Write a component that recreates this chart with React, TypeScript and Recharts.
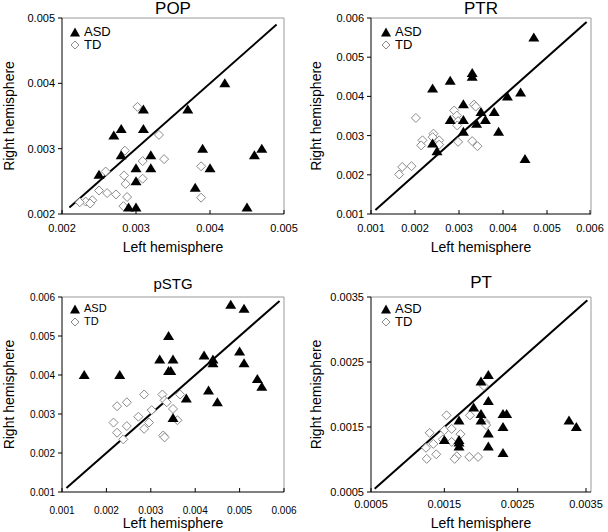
import { ScatterChart, Scatter, XAxis, YAxis, ReferenceLine } from 'recharts'

const FONT = '"Liberation Sans", Arial, Helvetica, sans-serif'

type Pt = [number, number]

// ── POP ──
const popTicks = [0.002, 0.003, 0.004, 0.005]
const popDiag = [0.0021, 0.0049]
const popAsd: Pt[] = [
  [0.0042, 0.0040], [0.0037, 0.0036], [0.0031, 0.0036], [0.0028, 0.0033], [0.0031, 0.0033],
  [0.0027, 0.0032], [0.0028, 0.0029], [0.0032, 0.0029], [0.0032, 0.0027], [0.0030, 0.0027],
  [0.0030, 0.0025], [0.0025, 0.0026], [0.0039, 0.0030], [0.0040, 0.0027], [0.0038, 0.0024],
  [0.0046, 0.0029], [0.0047, 0.0030], [0.0045, 0.0021], [0.0029, 0.0021], [0.0030, 0.0021],
]
const popTd: Pt[] = [
  [0.00302, 0.00364], [0.00331, 0.00321], [0.00285, 0.00297], [0.00338, 0.00284], [0.00309, 0.00281],
  [0.00284, 0.00259], [0.00309, 0.00254], [0.00286, 0.00246], [0.00388, 0.00273], [0.00388, 0.00225],
  [0.00288, 0.00226], [0.00283, 0.00212], [0.00259, 0.00265], [0.0025, 0.00236], [0.00261, 0.00232],
  [0.00273, 0.0023], [0.00241, 0.00221], [0.00232, 0.00219], [0.00224, 0.00218], [0.00238, 0.00216],
]

// ── PTR ──
const ptrTicks = [0.001, 0.002, 0.003, 0.004, 0.005, 0.006]
const ptrDiag = [0.0011, 0.0059]
const ptrAsd: Pt[] = [
  [0.0047, 0.0055], [0.0033, 0.0046], [0.0033, 0.0045], [0.0028, 0.0044], [0.0024, 0.0042],
  [0.0044, 0.0041], [0.0041, 0.0040], [0.0031, 0.0038], [0.0035, 0.0036], [0.0038, 0.0036],
  [0.0028, 0.0034], [0.0031, 0.0034], [0.0036, 0.0034], [0.0034, 0.0033], [0.0039, 0.0031],
  [0.0031, 0.0031], [0.0024, 0.0028], [0.0025, 0.0026], [0.0045, 0.0024],
]
const ptrTd: Pt[] = [
  [0.00202, 0.00345], [0.00289, 0.00364], [0.00295, 0.00351], [0.00298, 0.00337], [0.00296, 0.00326],
  [0.00334, 0.00379], [0.00338, 0.00374], [0.00242, 0.00305], [0.0024, 0.00296], [0.00217, 0.00288],
  [0.00214, 0.00275], [0.00255, 0.00288], [0.00255, 0.00277], [0.00298, 0.00284], [0.0033, 0.00286],
  [0.00342, 0.00273], [0.00192, 0.00222], [0.00171, 0.0022], [0.00164, 0.00201],
]

// ── pSTG ──
const pstgTicks = [0.001, 0.002, 0.003, 0.004, 0.005, 0.006]
const pstgDiag = [0.0011, 0.0059]
const pstgAsd: Pt[] = [
  [0.0048, 0.0058], [0.0051, 0.0057], [0.0034, 0.0050], [0.0042, 0.0045], [0.0050, 0.0046],
  [0.0032, 0.0044], [0.0035, 0.0044], [0.0044, 0.0044], [0.0044, 0.0043], [0.0051, 0.0043],
  [0.0034, 0.0041], [0.00345, 0.0041], [0.0015, 0.0040], [0.0023, 0.0040], [0.0054, 0.0039],
  [0.0055, 0.0037], [0.0043, 0.0036], [0.0038, 0.0034], [0.0045, 0.0033], [0.0035, 0.0029],
]
const pstgTd: Pt[] = [
  [0.00285, 0.0035], [0.00326, 0.0035], [0.00366, 0.0035], [0.00246, 0.0033], [0.00331, 0.00335],
  [0.00224, 0.0032], [0.00336, 0.0033], [0.0035, 0.00313], [0.00302, 0.0031], [0.00272, 0.00293],
  [0.00216, 0.00278], [0.00296, 0.00278], [0.00246, 0.00269], [0.00285, 0.00262], [0.00224, 0.00252],
  [0.00238, 0.00235], [0.00328, 0.00245], [0.00331, 0.0024], [0.0036, 0.00284],
]

// ── PT ──
const ptTicks = [0.0005, 0.0015, 0.0025, 0.0035]
const ptDiag = [0.00055, 0.00345]
const ptAsd: Pt[] = [
  [0.0021, 0.0023], [0.0020, 0.0022], [0.0021, 0.0019], [0.0019, 0.0018], [0.0020, 0.0017],
  [0.0023, 0.0017], [0.00235, 0.0017], [0.0020, 0.0016], [0.0017, 0.0016], [0.0032, 0.0016],
  [0.0033, 0.0015], [0.0023, 0.0015], [0.0021, 0.0014], [0.0015, 0.0013], [0.0017, 0.0013],
  [0.0017, 0.00126], [0.0017, 0.0012], [0.0021, 0.0012], [0.0023, 0.0011],
]
const ptTd: Pt[] = [
  [0.00153, 0.00168], [0.00185, 0.00168], [0.00204, 0.00213], [0.00206, 0.00157], [0.00207, 0.00153],
  [0.0013, 0.00141], [0.0015, 0.00145], [0.0016, 0.00147], [0.00172, 0.00139], [0.00148, 0.00131],
  [0.0016, 0.00127], [0.00135, 0.00124], [0.00125, 0.00118], [0.00139, 0.00108], [0.00126, 0.00101],
  [0.00167, 0.00105], [0.00164, 0.00101], [0.00184, 0.00104], [0.00196, 0.00104],
]

const toXY = (pts: Pt[]) => pts.map(([x, y]) => ({ x, y }))

const DIAMOND_GRAY = '#8a8a8a'

function Triangle(props: any) {
  const { cx, cy } = props
  if (cx == null || cy == null) return null
  return <polygon points={`${cx},${cy - 5} ${cx + 5.5},${cy + 4} ${cx - 5.5},${cy + 4}`} fill="#000" />
}

function Diamond(props: any) {
  const { cx, cy } = props
  if (cx == null || cy == null) return null
  return (
    <polygon
      points={`${cx},${cy - 4.5} ${cx + 4.5},${cy} ${cx},${cy + 4.5} ${cx - 4.5},${cy}`}
      fill="#fff"
      stroke={DIAMOND_GRAY}
      strokeWidth={1}
    />
  )
}

// x ticks point into the plot, label sits below the axis
function XTick(props: any) {
  const { x, y, payload, fs, gap } = props
  return (
    <g>
      <line x1={x} x2={x} y1={y} y2={y - 4} stroke="#000" />
      <text x={x} y={y + gap} textAnchor="middle" dominantBaseline="central"
        fontSize={fs} fontFamily={FONT} fill="#000">
        {String(payload.value)}
      </text>
    </g>
  )
}

type PanelProps = {
  title: string
  ticks: number[]
  diag: number[]
  asd: Pt[]
  td: Pt[]
  left: number
  top: number
  yAxisW: number
  margin: { top: number; right: number; bottom: number; left: number }
  tickFs: number
  tickGap: number
  xLabelDy: number
  yLabelDx: number
  titleFs: number
  titleY: number
  legendFs: number
  legendX: number
  legendY: number
}

function Panel(p: PanelProps) {
  const lo = p.ticks[0]
  const hi = p.ticks[p.ticks.length - 1]
  const plotL = p.margin.left + p.yAxisW
  const plotR = 304 - p.margin.right
  const cx = (plotL + plotR) / 2
  return (
    <div style={{ position: 'absolute', left: p.left, top: p.top, width: 304, height: 266 }}>
      <ScatterChart width={304} height={266} margin={p.margin}>
        <XAxis
          type="number"
          dataKey="x"
          domain={[lo, hi]}
          ticks={p.ticks}
          allowDataOverflow
          height={40}
          tickSize={0}
          tickMargin={0}
          tickLine={false}
          axisLine={{ stroke: '#000' }}
          tick={<XTick fs={p.tickFs} gap={p.tickGap} />}
          label={{ value: 'Left hemisphere', position: 'center', dy: p.xLabelDy, fontSize: 14, fill: '#000', fontFamily: FONT }}
        />
        <YAxis
          type="number"
          dataKey="y"
          domain={[lo, hi]}
          ticks={p.ticks}
          allowDataOverflow
          width={p.yAxisW}
          tickSize={4}
          tickMargin={3}
          axisLine={{ stroke: '#000' }}
          tickLine={{ stroke: '#000' }}
          tick={{ fontSize: p.tickFs, fill: '#000', fontFamily: FONT }}
          tickFormatter={(v: number) => String(v)}
          label={{ value: 'Right hemisphere', angle: -90, position: 'center', dx: p.yLabelDx, fontSize: 14, fill: '#000', fontFamily: FONT }}
        />
        {/* plot frame: top and right edges */}
        <ReferenceLine y={hi} stroke="#999" strokeWidth={1} />
        <ReferenceLine x={hi} stroke="#999" strokeWidth={1} />
        <ReferenceLine
          segment={[{ x: p.diag[0], y: p.diag[0] }, { x: p.diag[1], y: p.diag[1] }]}
          stroke="#000"
          strokeWidth={2}
        />
        <Scatter data={toXY(p.td)} shape={<Diamond />} isAnimationActive={false} />
        <Scatter data={toXY(p.asd)} shape={<Triangle />} isAnimationActive={false} />
      </ScatterChart>

      <div style={{
        position: 'absolute', left: cx - 60, width: 120, top: Math.max(0, p.titleY - 9), height: 18, lineHeight: '18px',
        textAlign: 'center', fontSize: p.titleFs, fontFamily: FONT, color: '#000',
      }}>
        {p.title}
      </div>

      {/* legend */}
      <div style={{ position: 'absolute', left: p.legendX - 6, top: p.legendY - 7, fontFamily: FONT, fontSize: p.legendFs, lineHeight: '13px', color: '#000' }}>
        <div style={{ display: 'flex', alignItems: 'center', height: 13 }}>
          <svg width={12} height={12} style={{ marginRight: 3, flexShrink: 0 }}>
            <polygon points="6,1.5 11,10.5 1,10.5" fill="#000" />
          </svg>
          <span>ASD</span>
        </div>
        <div style={{ display: 'flex', alignItems: 'center', height: 13 }}>
          <svg width={12} height={12} style={{ marginRight: 3, flexShrink: 0 }}>
            <polygon points="6,2 10,6 6,10 2,6" fill="#fff" stroke={DIAMOND_GRAY} />
          </svg>
          <span>TD</span>
        </div>
      </div>
    </div>
  )
}

export default function App() {
  return (
    <div style={{ position: 'absolute', left: 0, top: 0, width: 608, height: 532, background: '#fff' }}>
      <Panel
        title="POP" ticks={popTicks} diag={popDiag} asd={popAsd} td={popTd}
        left={0} top={0} yAxisW={62} margin={{ top: 18, right: 20, bottom: 12, left: 0 }}
        tickFs={11} tickGap={14} xLabelDy={13} yLabelDx={-22}
        titleFs={17} titleY={9} legendFs={13} legendX={75} legendY={32}
      />
      <Panel
        title="PTR" ticks={ptrTicks} diag={ptrDiag} asd={ptrAsd} td={ptrTd}
        left={304} top={0} yAxisW={67} margin={{ top: 18, right: 17, bottom: 12, left: 0 }}
        tickFs={11} tickGap={14} xLabelDy={13} yLabelDx={-21}
        titleFs={17} titleY={9} legendFs={13} legendX={82} legendY={32}
      />
      <Panel
        title="pSTG" ticks={pstgTicks} diag={pstgDiag} asd={pstgAsd} td={pstgTd}
        left={0} top={266} yAxisW={62} margin={{ top: 31, right: 20, bottom: 0, left: 0 }}
        tickFs={10} tickGap={18} xLabelDy={11} yLabelDx={-22}
        titleFs={15} titleY={18} legendFs={11} legendX={75} legendY={43}
      />
      <Panel
        title="PT" ticks={ptTicks} diag={ptDiag} asd={ptAsd} td={ptTd}
        left={304} top={266} yAxisW={67} margin={{ top: 31, right: 17, bottom: 0, left: 0 }}
        tickFs={11} tickGap={12} xLabelDy={11} yLabelDx={-21}
        titleFs={17} titleY={17} legendFs={13} legendX={82} legendY={43}
      />
    </div>
  )
}
